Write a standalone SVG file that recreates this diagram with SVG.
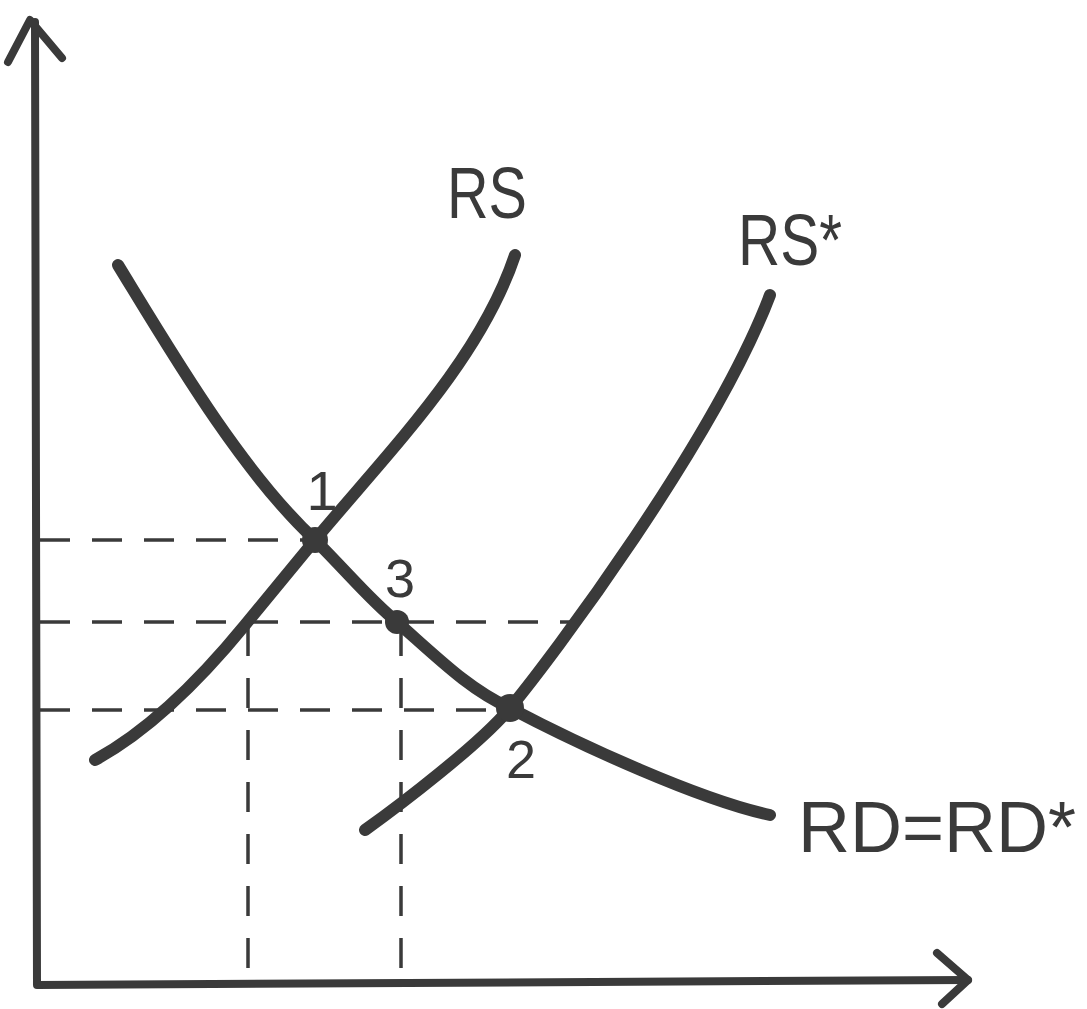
<svg xmlns="http://www.w3.org/2000/svg" width="1087" height="1009" viewBox="0 0 1087 1009">
<style>
.axis{fill:none;stroke:#3a3a3a;stroke-width:8;stroke-linecap:round;stroke-linejoin:round}
.curve{fill:none;stroke:#3a3a3a;stroke-width:12;stroke-linecap:round}
.dash{fill:none;stroke:#3a3a3a;stroke-width:3.5;stroke-dasharray:30 22}
.dot{fill:#3a3a3a}
.lbl{font-family:"Liberation Sans",Arial,sans-serif;fill:#3a3a3a;font-weight:normal}
</style>
<rect width="1087" height="1009" fill="#ffffff"/>
<g id="axes">
<path class="axis" d="M35,22 L37,985 L968,980"/>
<path class="axis" d="M8,62 L30,20 L62,58" stroke-width="12"/>
<path class="axis" d="M937,953 L968,980 L942,1004" stroke-width="12"/>
</g>
<g id="connectors">
<path class="dash" d="M40,540 H315"/>
<path class="dash" d="M40,622 H575"/>
<path class="dash" d="M40,710 H510"/>
<path class="dash" d="M248,626 V982"/>
<path class="dash" d="M401,626 V982"/>
</g>
<g id="RD"><path class="curve" d="M118,265 C170,350 240,470 315,540 C350,575 370,600 397,622 C440,660 470,690 510,708 C580,745 700,800 770,815"/></g>
<g id="RS"><path class="curve" d="M95,760 C150,730 200,680 245,625 C270,595 290,570 315,540 C390,450 480,360 515,255"/></g>
<g id="RSstar"><path class="curve" d="M365,830 C400,805 480,744 510,708 C550,660 715,440 770,295"/></g>
<g id="point1"><circle class="dot" cx="315" cy="540" r="13"/><text class="lbl" x="322" y="510" font-size="56" text-anchor="middle">1</text></g>
<g id="point3"><circle class="dot" cx="397" cy="622" r="12"/><text class="lbl" x="400" y="597" font-size="54" text-anchor="middle">3</text></g>
<g id="point2"><circle class="dot" cx="510" cy="708" r="14"/><text class="lbl" x="521" y="778" font-size="54" text-anchor="middle">2</text></g>
<g id="labelRS"><text class="lbl" x="447" y="218" font-size="72" textLength="80" lengthAdjust="spacingAndGlyphs">RS</text></g>
<g id="labelRSstar"><text class="lbl" x="738" y="265" font-size="72" textLength="104" lengthAdjust="spacingAndGlyphs">RS*</text></g>
<g id="labelRD"><text class="lbl" x="798" y="852" font-size="72" textLength="278" lengthAdjust="spacingAndGlyphs">RD=RD*</text></g>
</svg>
